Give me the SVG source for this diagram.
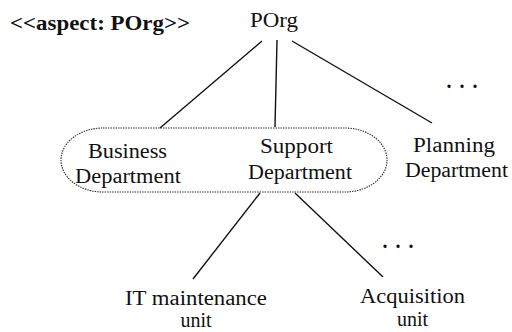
<svg xmlns="http://www.w3.org/2000/svg" width="512" height="332" viewBox="0 0 512 332">
<style>
text{font-family:"Liberation Serif","Times New Roman","DejaVu Serif",serif;font-size:20px;fill:#111;text-anchor:middle}
.b{font-weight:bold;text-anchor:start}
.dots{font-weight:bold;letter-spacing:8px}
.ln{stroke:#111;stroke-width:1.4;fill:none}
.grp{stroke:#333;stroke-width:1.1;fill:none;stroke-dasharray:1.5 1}
</style>
<rect width="512" height="332" fill="#fff"/>
<text class="b" x="10" y="30" textLength="180" lengthAdjust="spacingAndGlyphs">&lt;&lt;aspect: POrg&gt;&gt;</text>
<g id="connectors">
<line class="ln" x1="262" y1="41" x2="160" y2="128"/>
<line class="ln" x1="277" y1="40" x2="275" y2="127"/>
<line class="ln" x1="292" y1="41" x2="432" y2="123"/>
<line class="ln" x1="260" y1="193" x2="193" y2="279"/>
<line class="ln" x1="295" y1="193" x2="383" y2="277"/>
</g>
<g id="group">
<rect class="grp" x="61" y="128" width="326" height="64" rx="42" ry="32"/>
</g>
<g id="porg"><text x="274" y="27" textLength="48" lengthAdjust="spacingAndGlyphs">POrg</text></g>
<g id="business">
<text x="127.5" y="158" textLength="79" lengthAdjust="spacingAndGlyphs">Business</text>
<text x="128" y="183" textLength="106" lengthAdjust="spacingAndGlyphs">Department</text>
</g>
<g id="support">
<text x="296.5" y="153" textLength="73" lengthAdjust="spacingAndGlyphs">Support</text>
<text x="300" y="179" textLength="104" lengthAdjust="spacingAndGlyphs">Department</text>
</g>
<g id="planning">
<text x="454" y="152" textLength="82" lengthAdjust="spacingAndGlyphs">Planning</text>
<text x="456.5" y="177" textLength="103" lengthAdjust="spacingAndGlyphs">Department</text>
</g>
<g id="it">
<text x="196" y="305" textLength="142" lengthAdjust="spacingAndGlyphs">IT maintenance</text>
<text x="196" y="327">unit</text>
</g>
<g id="acquisition">
<text x="412.5" y="303" textLength="105" lengthAdjust="spacingAndGlyphs">Acquisition</text>
<text x="412.5" y="326">unit</text>
</g>
<g id="more1"><text class="dots" x="466" y="88">...</text></g>
<g id="more2"><text class="dots" x="402" y="248">...</text></g>
</svg>
